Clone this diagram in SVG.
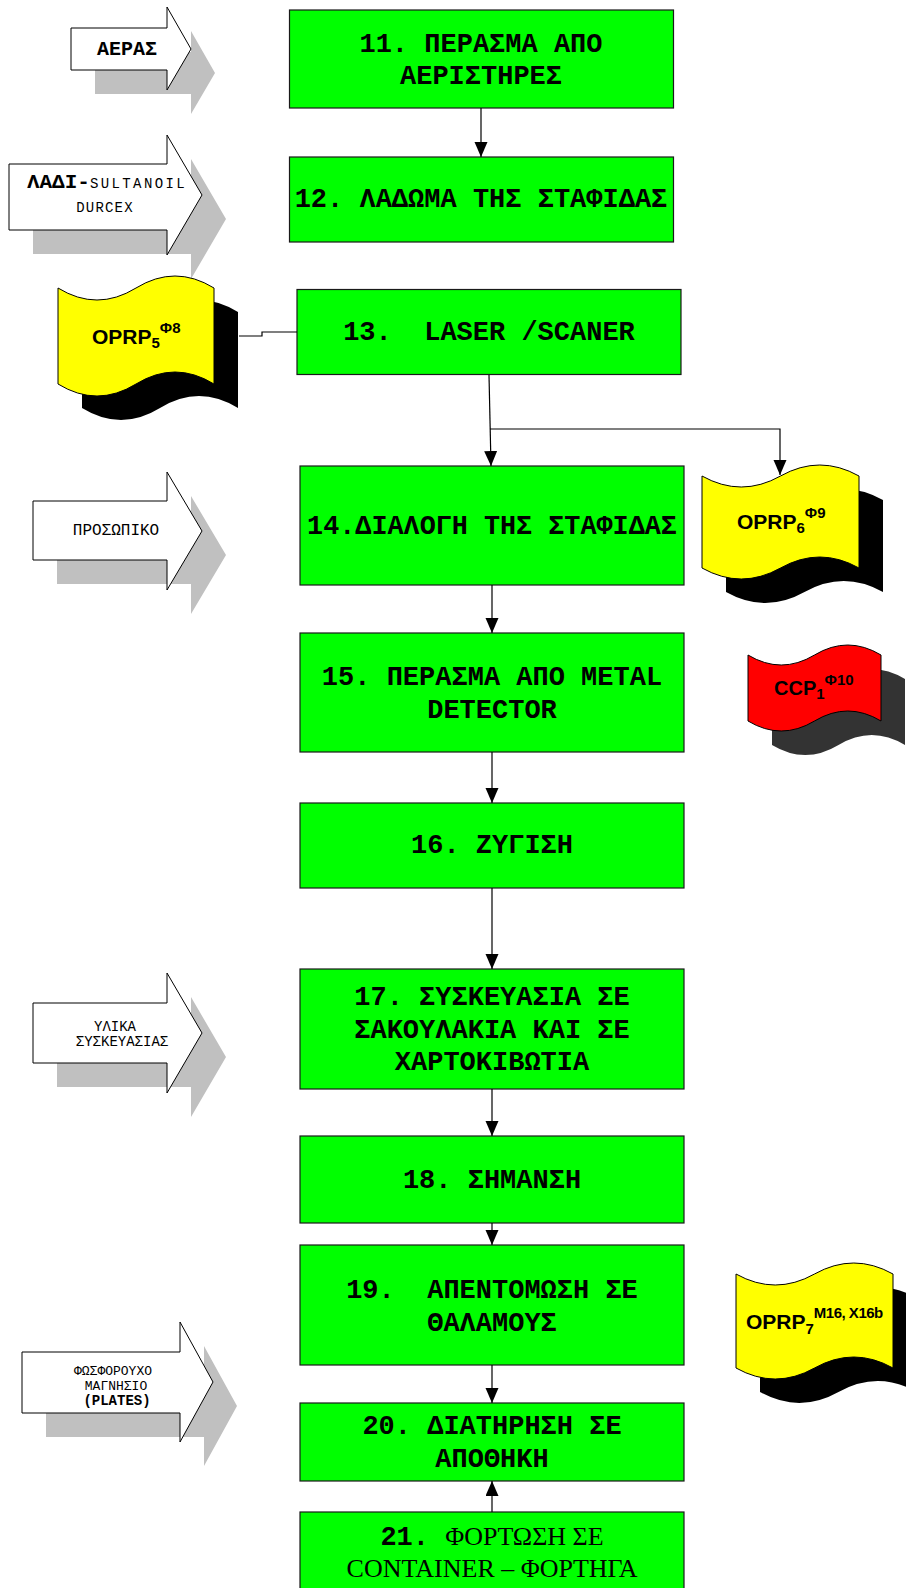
<svg xmlns="http://www.w3.org/2000/svg" width="906" height="1588" viewBox="0 0 906 1588">
  <style>
    .box { fill: #00ff00; stroke: #1a1a1a; stroke-width: 1.2; }
    .bt { font-family: "Liberation Mono", "Courier New", monospace; font-weight: bold; font-size: 27px; fill: #000; text-anchor: middle; white-space: pre; }
    .serif { font-family: "Liberation Serif", "Times New Roman", serif; font-weight: normal; font-size: 26px; }
    .inp { fill: #fff; stroke: #000; stroke-width: 1; }
    .inp-sh { fill: #c0c0c0; }
    .it { font-family: "Liberation Mono", "Courier New", monospace; fill: #000; text-anchor: middle; white-space: pre; }
    .flag-y { fill: #ffff00; stroke: #000; stroke-width: 1; }
    .flag-r { fill: #ff0000; stroke: #000; stroke-width: 1; }
    .ft { font-family: "Liberation Sans", Arial, sans-serif; font-weight: bold; fill: #000; }
    .conn { fill: none; stroke: #000; stroke-width: 1.2; }
  </style>
  <defs>
    <marker id="arrow" markerUnits="userSpaceOnUse" markerWidth="16" markerHeight="14" refX="15" refY="6.5" orient="auto">
      <path d="M0,0 L15,6.5 L0,13 Z" fill="#000"/>
    </marker>
  </defs>

  <rect width="906" height="1588" fill="#fff"/>

  <!-- process steps -->
  <g id="step11">
    <rect class="box" x="289.5" y="10" width="384" height="98"/>
    <text class="bt" x="481" y="52">11. ΠΕΡΑΣΜΑ ΑΠΟ</text>
    <text class="bt" x="481" y="84">ΑΕΡΙΣΤΗΡΕΣ</text>
  </g>
  <g id="step12">
    <rect class="box" x="289.5" y="157" width="384" height="85"/>
    <text class="bt" x="481" y="207">12. ΛΑΔΩΜΑ ΤΗΣ ΣΤΑΦΙΔΑΣ</text>
  </g>
  <g id="step13">
    <rect class="box" x="297" y="289.5" width="384" height="85"/>
    <text class="bt" x="489" y="340">13.  LASER /SCANER</text>
  </g>
  <g id="step14">
    <rect class="box" x="300" y="466" width="384" height="119"/>
    <text class="bt" x="492" y="534" style="font-size:26.8px">14.ΔΙΑΛΟΓΗ ΤΗΣ ΣΤΑΦΙΔΑΣ</text>
  </g>
  <g id="step15">
    <rect class="box" x="300" y="633" width="384" height="119"/>
    <text class="bt" x="492" y="685">15. ΠΕΡΑΣΜΑ ΑΠΟ METAL</text>
    <text class="bt" x="492" y="718">DETECTOR</text>
  </g>
  <g id="step16">
    <rect class="box" x="300" y="803" width="384" height="85"/>
    <text class="bt" x="492" y="853">16. ΖΥΓΙΣΗ</text>
  </g>
  <g id="step17">
    <rect class="box" x="300" y="969" width="384" height="120"/>
    <text class="bt" x="492" y="1005">17. ΣΥΣΚΕΥΑΣΙΑ ΣΕ</text>
    <text class="bt" x="492" y="1038">ΣΑΚΟΥΛΑΚΙΑ ΚΑΙ ΣΕ</text>
    <text class="bt" x="492" y="1070">ΧΑΡΤΟΚΙΒΩΤΙΑ</text>
  </g>
  <g id="step18">
    <rect class="box" x="300" y="1136" width="384" height="87"/>
    <text class="bt" x="492" y="1188">18. ΣΗΜΑΝΣΗ</text>
  </g>
  <g id="step19">
    <rect class="box" x="300" y="1245" width="384" height="120"/>
    <text class="bt" x="492" y="1298">19.  ΑΠΕΝΤΟΜΩΣΗ ΣΕ</text>
    <text class="bt" x="492" y="1331">ΘΑΛΑΜΟΥΣ</text>
  </g>
  <g id="step20">
    <rect class="box" x="300" y="1403" width="384" height="78"/>
    <text class="bt" x="492" y="1434">20. ΔΙΑΤΗΡΗΣΗ ΣΕ</text>
    <text class="bt" x="492" y="1467">ΑΠΟΘΗΚΗ</text>
  </g>
  <g id="step21">
    <rect class="box" x="300" y="1512" width="384" height="90"/>
    <text class="bt" x="492" y="1545">21. <tspan class="serif">ΦΟΡΤΩΣΗ ΣΕ</tspan></text>
    <text class="bt serif" x="492" y="1577">CONTAINER – ΦΟΡΤΗΓΑ</text>
  </g>

  <!-- inputs (block arrows with offset shadow) -->
  <g id="in-aeras">
    <path class="inp-sh" transform="translate(24,24)" d="M71,28 H167 V7 L191,49 L167,90 V70 H71 Z"/>
    <path class="inp" d="M71,28 H167 V7 L191,49 L167,90 V70 H71 Z"/>
    <text class="it" x="127" y="55" style="font-size:20px;font-weight:bold">ΑΕΡΑΣ</text>
  </g>
  <g id="in-ladi">
    <path class="inp-sh" transform="translate(24,24)" d="M9,164 H167 V135 L202,195 L167,255 V230 H9 Z"/>
    <path class="inp" d="M9,164 H167 V135 L202,195 L167,255 V230 H9 Z"/>
    <text class="it" x="107" y="188"><tspan style="font-size:21px;font-weight:bold">ΛΑΔΙ-</tspan><tspan style="font-size:14px;letter-spacing:2.4px">SULTANOIL</tspan></text>
    <text class="it" x="105" y="212" style="font-size:14px;letter-spacing:1.2px">DURCEX</text>
  </g>
  <g id="in-prosopiko">
    <path class="inp-sh" transform="translate(24,24)" d="M33,501 H167 V472 L202,531 L167,590 V560 H33 Z"/>
    <path class="inp" d="M33,501 H167 V472 L202,531 L167,590 V560 H33 Z"/>
    <text class="it" x="116" y="535" style="font-size:16px">ΠΡΟΣΩΠΙΚΟ</text>
  </g>
  <g id="in-ylika">
    <path class="inp-sh" transform="translate(24,24)" d="M33,1003 H167 V973 L202,1033 L167,1093 V1063 H33 Z"/>
    <path class="inp" d="M33,1003 H167 V973 L202,1033 L167,1093 V1063 H33 Z"/>
    <text class="it" x="115" y="1031" style="font-size:14px">ΥΛΙΚΑ</text>
    <text class="it" x="122" y="1046" style="font-size:14px">ΣΥΣΚΕΥΑΣΙΑΣ</text>
  </g>
  <g id="in-fosforoyxo">
    <path class="inp-sh" transform="translate(24,24)" d="M22,1352 H180 V1322 L213,1382 L180,1442 V1413 H22 Z"/>
    <path class="inp" d="M22,1352 H180 V1322 L213,1382 L180,1442 V1413 H22 Z"/>
    <text class="it" x="113" y="1375" style="font-size:13px">ΦΩΣΦΟΡΟΥΧΟ</text>
    <text class="it" x="116" y="1390" style="font-size:13px">ΜΑΓΝΗΣΙΟ</text>
    <text class="it" x="117" y="1405" style="font-size:14px;font-weight:bold">(PLATES)</text>
  </g>

  <!-- control point flags -->
  <g id="oprp5">
    <path transform="translate(24,24)" fill="#000" d="M58,288 Q97,312 136,288 T214,288 L214,384 Q175,360 136,384 T58,384 Z"/>
    <path class="flag-y" d="M58,288 Q97,312 136,288 T214,288 L214,384 Q175,360 136,384 T58,384 Z"/>
    <text class="ft" x="92" y="344" style="font-size:21px">OPRP<tspan dy="4" style="font-size:15px">5</tspan><tspan dy="-15" style="font-size:15px">Φ8</tspan></text>
  </g>
  <g id="oprp6">
    <path transform="translate(24,24)" fill="#000" d="M702,476 Q741.25,498 780.5,476 T859,476 L859,568 Q819.75,546 780.5,568 T702,568 Z"/>
    <path class="flag-y" d="M702,476 Q741.25,498 780.5,476 T859,476 L859,568 Q819.75,546 780.5,568 T702,568 Z"/>
    <text class="ft" x="737" y="529" style="font-size:21px">OPRP<tspan dy="4" style="font-size:15px">6</tspan><tspan dy="-15" style="font-size:15px">Φ9</tspan></text>
  </g>
  <g id="ccp1">
    <path transform="translate(24,24)" fill="#333" d="M748,655 Q781.25,675 814.5,655 T881,655 L881,721 Q847.75,701 814.5,721 T748,721 Z"/>
    <path class="flag-r" d="M748,655 Q781.25,675 814.5,655 T881,655 L881,721 Q847.75,701 814.5,721 T748,721 Z"/>
    <text class="ft" x="774" y="695" style="font-size:20px">CCP<tspan dy="4" style="font-size:15px">1</tspan><tspan dy="-14" style="font-size:15px">Φ10</tspan></text>
  </g>
  <g id="oprp7">
    <path transform="translate(24,24)" fill="#000" d="M736,1274 Q775.25,1296 814.5,1274 T893,1274 L893,1368 Q853.75,1346 814.5,1368 T736,1368 Z"/>
    <path class="flag-y" d="M736,1274 Q775.25,1296 814.5,1274 T893,1274 L893,1368 Q853.75,1346 814.5,1368 T736,1368 Z"/>
    <text class="ft" x="746" y="1329" style="font-size:21px">OPRP<tspan dy="5" style="font-size:15px">7</tspan><tspan dy="-16" style="font-size:15px;letter-spacing:-0.5px">M16, X16b</tspan></text>
  </g>

  <!-- connectors -->
  <g id="connectors">
    <path class="conn" d="M481,108 V157" marker-end="url(#arrow)"/>
    <path class="conn" d="M489,375 L491,466" marker-end="url(#arrow)"/>
    <path class="conn" d="M490,429 H780 V475" marker-end="url(#arrow)"/>
    <path class="conn" d="M492,585 V633" marker-end="url(#arrow)"/>
    <path class="conn" d="M492,752 V803" marker-end="url(#arrow)"/>
    <path class="conn" d="M492,888 V969" marker-end="url(#arrow)"/>
    <path class="conn" d="M492,1089 V1136" marker-end="url(#arrow)"/>
    <path class="conn" d="M492,1223 V1245" marker-end="url(#arrow)"/>
    <path class="conn" d="M492,1365 V1403" marker-end="url(#arrow)"/>
    <path class="conn" d="M492,1512 V1481" marker-end="url(#arrow)"/>
    <path class="conn" d="M239,336 H262 V332 H297"/>
  </g>
</svg>
